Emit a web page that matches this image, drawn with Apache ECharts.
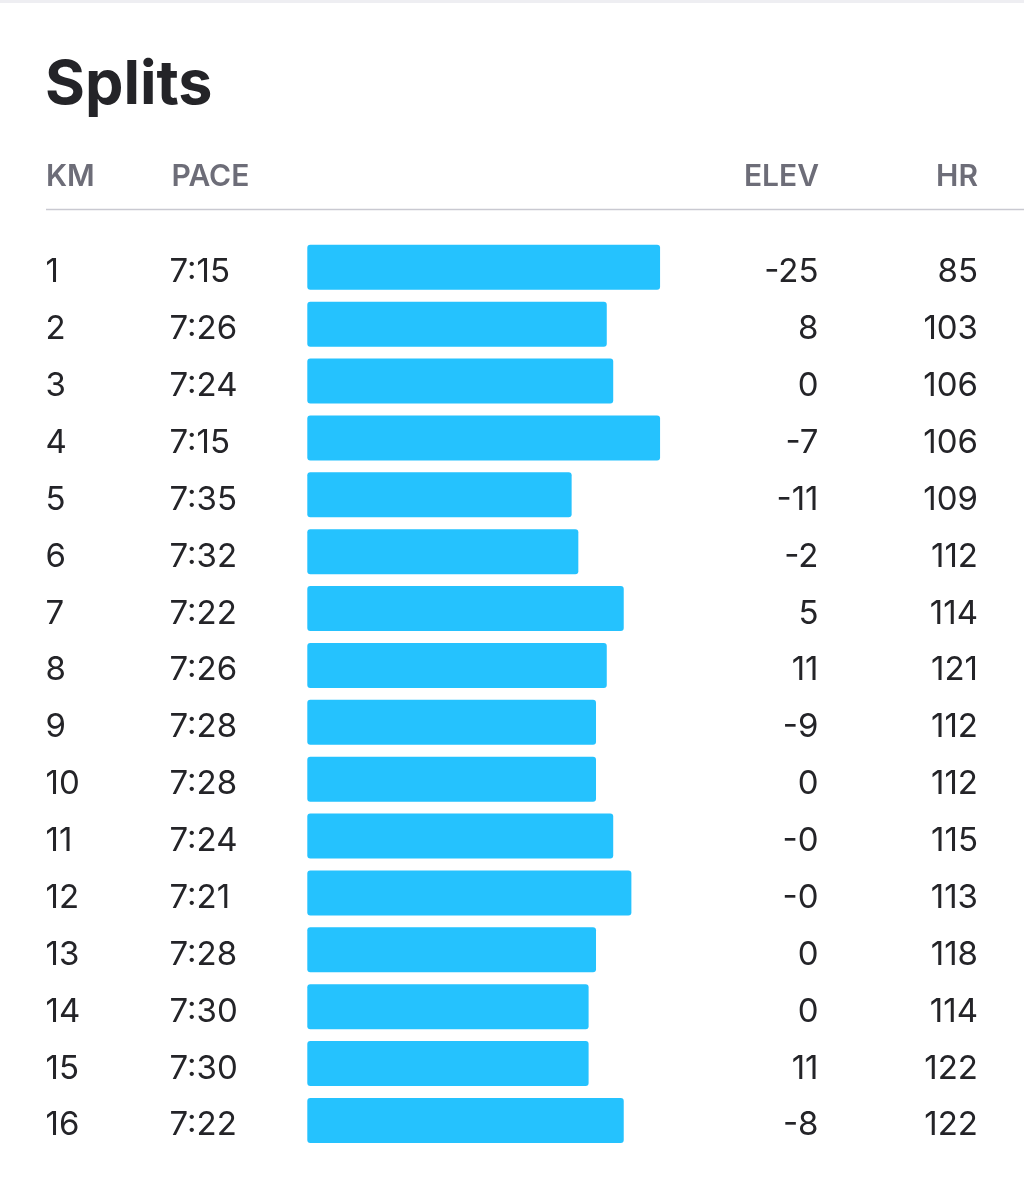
<!DOCTYPE html>
<html>
<head>
<meta charset="utf-8">
<style>
  html, body { margin: 0; padding: 0; background: #ffffff; }
  #chart { width: 1024px; height: 1200px; }
</style>
<script src="https://cdn.jsdelivr.net/npm/echarts@6/dist/echarts.min.js"></script>
</head>
<body>
<div id="chart"></div>
<script>
// ---- data ----
const km = ['1','2','3','4','5','6','7','8','9','10','11','12','13','14','15','16'];
const pace = ['7:15','7:26','7:24','7:15','7:35','7:32','7:22','7:26','7:28','7:28','7:24','7:21','7:28','7:30','7:30','7:22'];
// split speed in km/h (bar lengths)
const speedKmh = [8.276, 8.053, 8.080, 8.276, 7.906, 7.934, 8.124, 8.053, 8.008, 8.008, 8.080, 8.156, 8.008, 7.977, 7.977, 8.124];
const elev = ['-25','8','0','-7','-11','-2','5','11','-9','0','-0','-0','0','0','11','-8'];
const hr = ['85','103','106','106','109','112','114','121','112','112','115','113','118','114','122','122'];
const headers = { km: 'KM', pace: 'PACE', elev: 'ELEV', hr: 'HR' };
const titleText = 'Splits';

// ---- styling / layout ----
const FONT = 'Inter, "Noto Sans", sans-serif';
const TEXT = '#242428';
const GRAY = '#6d6d78';
const BAR = '#25c2fe';
const gridLeft = 307.3, gridTop = 238.9, gridWidth = 478, gridHeight = 910;
const gridRightEdge = gridLeft + gridWidth;

function catAxis(data, position, margin, align) {
  return {
    type: 'category', data: data, inverse: true, position: position,
    axisLine: { show: false }, axisTick: { show: false }, splitLine: { show: false },
    axisLabel: {
      show: true, interval: 0, margin: margin, align: align,
      color: TEXT, fontFamily: FONT, fontSize: 33, fontWeight: 400,
      verticalAlign: 'top', lineHeight: 10
    }
  };
}

const chart = echarts.init(document.getElementById('chart'), null, { renderer: 'canvas' });
chart.setOption({
  animation: false,
  backgroundColor: '#ffffff',
  grid: { left: gridLeft, top: gridTop, width: gridWidth, height: gridHeight, containLabel: false },
  xAxis: {
    type: 'value', min: 6.8, max: 8.8, show: false
  },
  yAxis: [
    catAxis(km, 'left', gridLeft - 45.5, 'left'),
    catAxis(pace, 'left', gridLeft - 169.5, 'left'),
    catAxis(elev, 'right', 818.5 - gridRightEdge, 'right'),
    catAxis(hr, 'right', 978 - gridRightEdge, 'right')
  ],
  series: [{
    type: 'bar',
    xAxisIndex: 0, yAxisIndex: 0,
    data: speedKmh,
    barWidth: 45,
    clip: true,
    itemStyle: { color: BAR, borderRadius: 3 },
    silent: true
  }],
  graphic: [
    { type: 'rect', shape: { x: 0, y: 0, width: 1024, height: 3 }, style: { fill: '#eeeef2' }, silent: true },
    { type: 'text', style: { x: 45, y: 86, text: titleText, fill: TEXT, font: '700 61px ' + FONT, textVerticalAlign: 'middle' } },
    { type: 'text', style: { x: 46, y: 177, text: headers.km, fill: GRAY, font: '600 30px ' + FONT, textVerticalAlign: 'middle' } },
    { type: 'text', style: { x: 171.5, y: 177, text: headers.pace, fill: GRAY, font: '600 30px ' + FONT, textVerticalAlign: 'middle' } },
    { type: 'text', style: { x: 819, y: 177, text: headers.elev, fill: GRAY, font: '600 30px ' + FONT, textAlign: 'right', textVerticalAlign: 'middle' } },
    { type: 'text', style: { x: 978, y: 177, text: headers.hr, fill: GRAY, font: '600 30px ' + FONT, textAlign: 'right', textVerticalAlign: 'middle' } },
    { type: 'line', shape: { x1: 46, y1: 209.5, x2: 1024, y2: 209.5 }, style: { stroke: '#c9c9d1', lineWidth: 1.5 }, silent: true }
  ]
});
</script>
</body>
</html>
